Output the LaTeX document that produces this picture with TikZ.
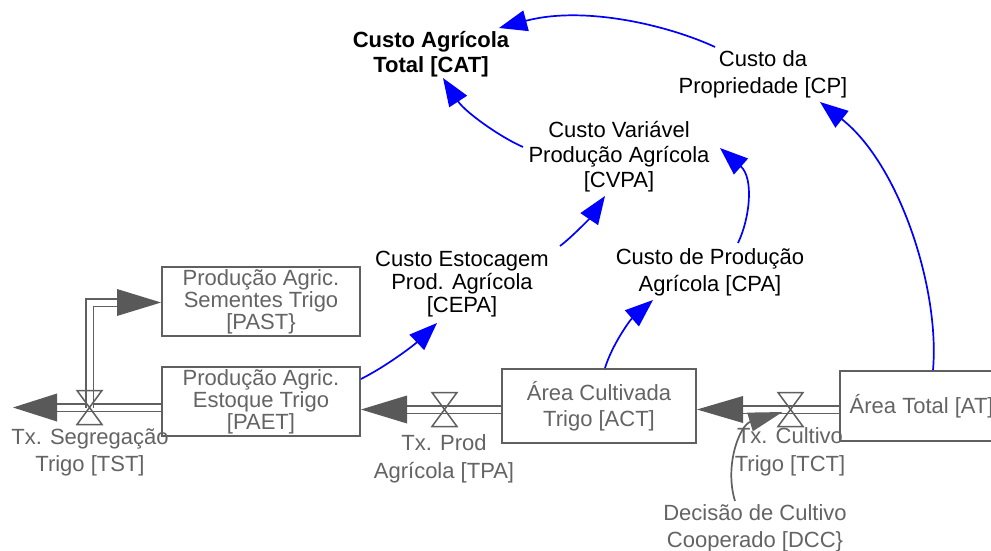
\documentclass[tikz,border=0pt]{standalone}
\usepackage{fontspec}
\setmainfont{Liberation Sans}
\usetikzlibrary{arrows.meta,calc}
\definecolor{conblue}{RGB}{0,0,255}
\definecolor{stockgray}{RGB}{96,96,96}
\definecolor{txtgray}{RGB}{100,100,100}
\definecolor{flowfill}{RGB}{89,89,89}
\begin{document}
\begin{tikzpicture}[x=1pt,y=-1pt,
  base/.style={font=\fontsize{22}{25}\selectfont, align=center, inner sep=0pt},
  lab/.style={base, text=black},
  stock/.style={base, draw=stockgray, line width=1.9pt, text=txtgray,
    minimum width=198pt, minimum height=69pt},
  flowlab/.style={base, text=txtgray},
  conn/.style={draw=conblue, line width=1.7pt, -{Triangle[length=28pt,width=21pt]}},
  infl/.style={draw=stockgray, line width=1.7pt, -{Triangle[length=34pt,width=19pt]}},
  pipe/.style={draw=stockgray, line width=1.8pt, double=white, double distance=6pt},
  valve/.style={draw=stockgray, line width=1.5pt, line join=miter},
  flowhead/.style={fill=flowfill, draw=none}
]
\clip (0,0) rectangle (991,551);
\fill[white] (0,0) rectangle (991,551);

% stocks
\node[stock, font=\fontsize{22}{22}\selectfont] (past) at (261,301.5) {Produção Agric.\\Sementes Trigo\\{[}PAST\}};
\node[stock, font=\fontsize{22}{22}\selectfont] (paet) at (261,401.5) {Produção Agric.\\Estoque Trigo\\{[}PAET]};
\node[stock, minimum width=194pt, minimum height=74pt, font=\fontsize{22}{26}\selectfont] (act) at (599,406) {Área Cultivada\\Trigo [ACT]};
\node[stock, minimum width=200pt, minimum height=70pt] (at) at (940,406) {};
\node[base, text=txtgray, anchor=west] (attext) at (849.5,406) {Área Total [AT]};

% valves (centres)
\coordinate (vtst) at (89.5,407.5);
\coordinate (vtpa) at (444.5,409.5);
\coordinate (vtct) at (790.5,409.5);

% pipes
\draw[pipe] (paet.west |- vtst) -- (57,407.5);
\draw[pipe] (vtst) -- (89.5,302.5) -- (117,302.5);
\draw[pipe] (act.west |- vtpa) -- (407,409.5);
\draw[pipe] (at.west |- vtct) -- (743,409.5);

% flow heads
\fill[flowhead] (13,407.5) -- (57,393.5) -- (57,421.5) -- cycle;
\fill[flowhead] (past.west |- 0,302.5) -- (117,289) -- (117,316) -- cycle;
\fill[flowhead] (paet.east |- vtpa) -- (407,395.5) -- (407,423.5) -- cycle;
\fill[flowhead] (act.east |- vtct) -- (743,396) -- (743,423) -- cycle;

% valves
\foreach \v in {vtst,vtpa,vtct}{
  \begin{scope}[shift={(\v)}]
    \draw[valve] (-12.5,-17) -- (12.5,-17) -- (0,0) -- cycle;
    \draw[valve] (0,0) -- (-12.5,17) -- (12.5,17) -- cycle;
  \end{scope}
}

% flow labels
\node[flowlab, font=\fontsize{22}{27}\selectfont] (tst) at (90,452) {Tx. Segregação\\Trigo [TST]};
\node[flowlab, font=\fontsize{22}{28}\selectfont] (tpa) at (444,459) {Tx. Prod\\Agrícola [TPA]};
\node[flowlab, font=\fontsize{22}{28}\selectfont] (tct) at (790,452) {Tx. Cultivo\\Trigo [TCT]};
\node[flowlab, font=\fontsize{22}{27}\selectfont] (dcc) at (755,528) {Decisão de Cultivo\\Cooperado [DCC\}};

% auxiliaries
\node[lab, font=\bfseries\fontsize{22}{25}\selectfont] (cat) at (431,54) {Custo Agrícola\\Total [CAT]};
\node[lab, font=\fontsize{22}{27}\selectfont] (cp) at (763,74) {Custo da\\Propriedade [CP]};
\node[lab] (cvpa) at (619,157) {Custo Variável\\Produção Agrícola\\{[}CVPA]};
\node[lab, font=\fontsize{22}{23}\selectfont] (cepa) at (462,284) {Custo Estocagem\\Prod. Agrícola\\{[}CEPA]};
\node[lab, font=\fontsize{22}{27}\selectfont] (cpa) at (710,272) {Custo de Produção\\Agrícola [CPA]};

% connectors
\draw[conn] ($(paet.east)+(0,-22.5)$) .. controls (385,367) and (413,346) .. ($(cepa.center)+(-25,39)$);
\draw[conn] ($(cepa.center)+(98,-38)$) .. controls (572,237) and (590,218) .. ($(cvpa.center)+(-14,39)$);
\draw[conn] ($(act.north)+(6,0)$) .. controls (612,345) and (630,320) .. ($(cpa.center)+(-57,28)$);
\draw[conn] ($(cpa.center)+(28,-29)$) .. controls (750,218) and (754,178) .. ($(cvpa.center)+(101,-9)$);
\draw[conn] ($(cvpa.center)+(-96,-10)$) .. controls (500,137) and (465,112) .. ($(cat.center)+(12,24)$);
\draw[conn] ($(cp.center)+(-48,-27)$) .. controls (670,26) and (585,5) .. ($(cat.center)+(68,-26)$);
\draw[conn] ($(at.north)+(-7,0)$) .. controls (940,290) and (900,165) .. ($(cp.center)+(57,28)$);
\draw[infl] ($(dcc.center)+(-20,-27)$) .. controls (724,465) and (740,425) .. ($(vtct)+(-8,2.5)$);
\end{tikzpicture}
\end{document}
